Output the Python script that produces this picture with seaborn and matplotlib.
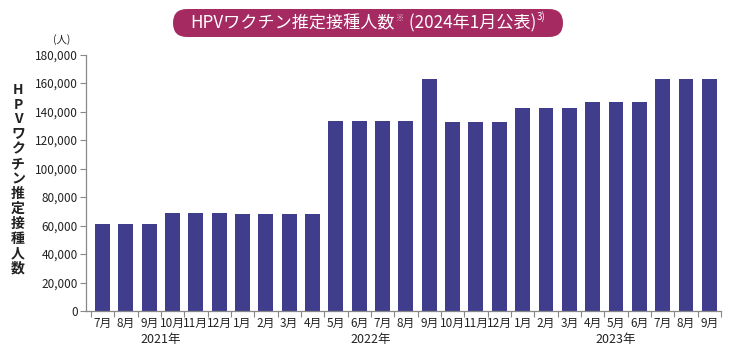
import matplotlib
matplotlib.use("Agg")
import matplotlib.pyplot as plt
import seaborn as sns
import pandas as pd
from matplotlib.patches import FancyBboxPatch
from matplotlib.ticker import FuncFormatter, MultipleLocator

# ---- data ----
years = ["2021年"] * 6 + ["2022年"] * 12 + ["2023年"] * 9
months = ["7月", "8月", "9月", "10月", "11月", "12月",
          "1月", "2月", "3月", "4月", "5月", "6月", "7月", "8月", "9月", "10月", "11月", "12月",
          "1月", "2月", "3月", "4月", "5月", "6月", "7月", "8月", "9月"]
values = [61000, 61000, 61000, 68500, 68500, 68500,
          68000, 68000, 68000, 68000, 133000, 133000, 133000, 133000, 162500, 132500, 132500, 132500,
          142500, 142500, 142500, 146500, 146500, 146500, 163000, 163000, 163000]
year_labels = ["2021年", "2022年", "2023年"]
y_ticks = [0, 20000, 40000, 60000, 80000, 100000, 120000, 140000, 160000, 180000]

sns.set_style("white")
plt.rcParams['font.family'] = ['Noto Sans CJK JP', 'DejaVu Sans']

df = pd.DataFrame({"key": [f"{y}{m}" for y, m in zip(years, months)],
                   "value": values})

W, H = 748, 349
fig = plt.figure(figsize=(W / 100, H / 100), dpi=100)
ax = fig.add_axes([86 / W, 1 - 311 / H, (721 - 86) / W, (311 - 54.5) / H])

sns.barplot(data=df, x="key", y="value", color="#3f3d8c", width=0.64,
            saturation=1, ax=ax, edgecolor="none")

ax.set_xlim(-0.71, 26.5)
ax.set_ylim(0, 180000)
ax.set_yticks(y_ticks)
ax.yaxis.set_major_formatter(FuncFormatter(lambda v, p: f"{int(v):,}"))
ax.set_xticks(range(len(months)))
ax.set_xticklabels(months)
ax.xaxis.set_minor_locator(MultipleLocator(1, offset=0.5))
ax.tick_params(axis="x", which="major", length=0, pad=4, labelsize=8.5, colors="#222222")
ax.tick_params(axis="x", which="minor", length=4, width=0.8, color="#888888", direction="out", bottom=True)
ax.tick_params(axis="y", length=4, width=0.8, color="#888888", labelsize=8.5, labelcolor="#222222", pad=2, left=True)
ax.set_xlabel("")
ax.set_ylabel("")
for s in ["top", "right"]:
    ax.spines[s].set_visible(False)
for s in ["left", "bottom"]:
    ax.spines[s].set_color("#888888")
    ax.spines[s].set_linewidth(0.9)

# year labels
idx = 0
for yl in year_labels:
    n = years.count(yl)
    mid = idx + (n - 1) / 2
    ax.text(mid, -0.112, yl, transform=ax.get_xaxis_transform(), ha="center", va="center",
            fontsize=9, color="#222222")
    idx += n

# unit label
fig.text(62 / W, 1 - 40 / H, "(人)", ha="center", va="center", fontsize=7.5, color="#222222")

# vertical y-label
ylab = "HPVワクチン推定接種人数"
fig.text(18 / W, 1 - 179 / H, "\n".join(ylab), ha="center", va="center",
         fontsize=10, fontweight="bold", linespacing=1.08, color="#222222")

# title box
box = FancyBboxPatch((173 / W, 1 - 37 / H), (563 - 173) / W, 28 / H,
                     boxstyle=f"round,pad=0,rounding_size={14 / W}", transform=fig.transFigure,
                     facecolor="#a52a62", edgecolor="none", mutation_aspect=W / H)
fig.add_artist(box)

ty = 1 - 23 / H
t1 = fig.text(198 / W, ty, "HPVワクチン推定接種人数", ha="left", va="center",
              fontsize=12.3, color="white")
t2 = fig.text(0, 0, "※", fontsize=6, color="#e6b8cc", va="bottom")
t3 = fig.text(0, 0, " (2024年1月公表)", fontsize=12.3, color="white", va="center")
t4 = fig.text(0, 0, "3)", fontsize=7, color="white", va="bottom")

fig.canvas.draw()
r = fig.canvas.get_renderer()
b1 = t1.get_window_extent(r)
pieces = [(t2, 0.5 / H), (t3, 0.0), (t4, 0.5 / H)]
x = b1.x1
for t, dy in pieces:
    t.set_position((x / W + 0.001, ty + dy))
    fig.canvas.draw()
    x = t.get_window_extent(r).x1
total_left = b1.x0
total_right = x
shift = (368 - (total_left + total_right) / 2) / W
for t in [t1, t2, t3, t4]:
    px, py = t.get_position()
    t.set_position((px + shift, py))

fig.savefig("out.png", dpi=100)
